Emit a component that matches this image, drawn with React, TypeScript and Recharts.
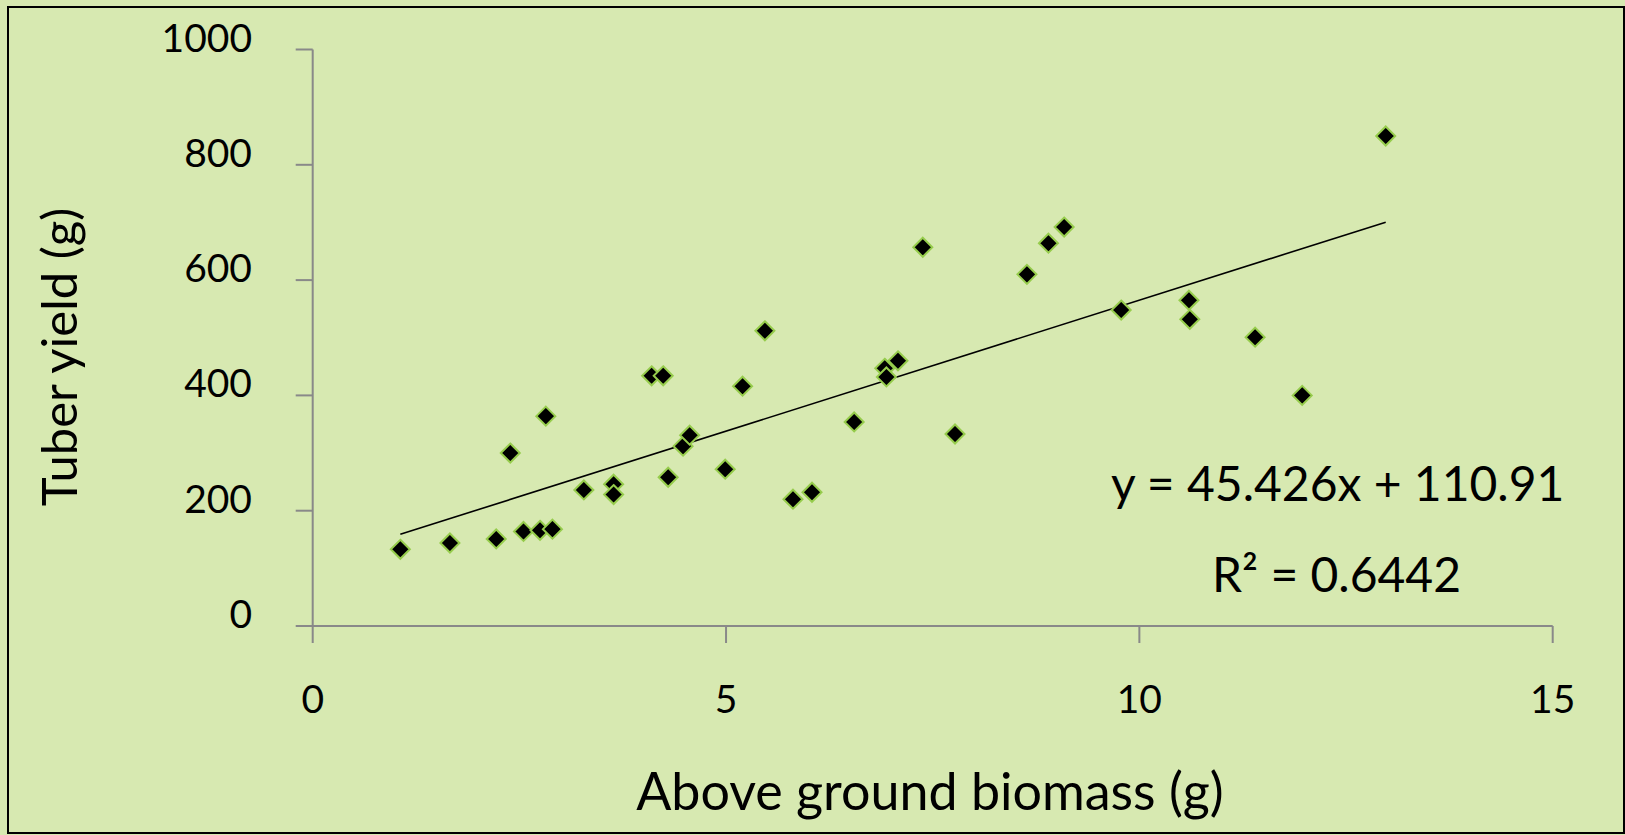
import { ScatterChart, Scatter, XAxis, YAxis, ReferenceLine } from 'recharts';

// above ground biomass (g) and tuber yield (g)
const biomass = [
  1.06, 1.66, 2.22, 2.39, 2.55, 2.75, 2.82, 2.9, 3.28, 3.64, 3.64, 4.1, 4.24, 4.3, 4.48, 4.56, 4.99, 5.2,
  5.47, 5.81, 6.04, 6.55, 6.92, 6.94, 7.08, 7.38, 7.77, 8.64, 8.9, 9.09, 9.78, 10.6, 10.61, 11.4, 11.97, 12.98,
];
const tuberYield = [
  133, 144, 151, 300, 164, 166, 364, 168, 236, 246, 228, 434, 434, 258, 312, 331, 272, 416,
  512, 220, 232, 354, 447, 432, 460, 657, 333, 610, 664, 692, 548, 565, 532, 501, 400, 850,
];

const xTicks = [0, 5, 10, 15];
const yTicks = [0, 200, 400, 600, 800, 1000];

// linear trendline as printed on the chart, drawn over the data range
const SLOPE = 45.426;
const INTERCEPT = 110.91;
const trendX = [1.06, 12.98];

const BG = '#d7e9b1';
const AXIS = '#898989';
const FONT = 'Lato, "Noto Sans", sans-serif';

const points = biomass.map((x, i) => ({ x, y: tuberYield[i] }));
const trendSegment = trendX.map((x) => ({ x, y: SLOPE * x + INTERCEPT }));

function Diamond(props: any) {
  const { cx, cy } = props;
  const r = 9.5;
  return (
    <polygon
      points={`${cx},${cy - r} ${cx + r},${cy} ${cx},${cy + r} ${cx - r},${cy}`}
      fill="#000"
      stroke="#96cc4c"
      strokeWidth={2}
    />
  );
}

function YTick(props: any) {
  const { x, y, payload } = props;
  return (
    <text x={x} y={y + 2} textAnchor="end" fontSize={39} fontFamily={FONT} fill="#000">
      {payload.value}
    </text>
  );
}

function XTick(props: any) {
  const { x, y, payload } = props;
  return (
    <text x={x} y={y + 70} textAnchor="middle" fontSize={39} fontFamily={FONT} fill="#000">
      {payload.value}
    </text>
  );
}

export default function App() {
  return (
    <div style={{ position: 'absolute', left: 0, top: 0, width: 1625, height: 835, background: BG }}>
      <div
        style={{
          position: 'absolute',
          left: 7,
          top: 6,
          width: 1618,
          height: 828,
          border: '2px solid #000',
          boxSizing: 'border-box',
        }}
      />
      <ScatterChart
        width={1625}
        height={835}
        margin={{ top: 49.5, right: 72.3, bottom: 109, left: 212.7 }}
        style={{ position: 'absolute', left: 0, top: 0 }}
      >
        <XAxis
          type="number"
          dataKey="x"
          domain={[0, 15]}
          ticks={xTicks}
          height={100}
          stroke={AXIS}
          strokeWidth={2}
          tickSize={17}
          tickMargin={0}
          tick={<XTick />}
          allowDataOverflow
        />
        <YAxis
          type="number"
          dataKey="y"
          domain={[0, 1000]}
          ticks={yTicks}
          width={100}
          stroke={AXIS}
          strokeWidth={2}
          tickSize={17}
          tickMargin={43.7}
          tick={<YTick />}
          allowDataOverflow
        />
        <ReferenceLine segment={trendSegment} stroke="#000" strokeWidth={1.6} />
        <Scatter data={points} shape={<Diamond />} isAnimationActive={false} />
      </ScatterChart>
      <svg
        width={1625}
        height={835}
        style={{ position: 'absolute', left: 0, top: 0, pointerEvents: 'none' }}
        fontFamily={FONT}
        fill="#000"
      >
        <text x={930} y={810} textAnchor="middle" fontSize={52}>
          Above ground biomass (g)
        </text>
        <text x={77} y={357} transform="rotate(-90, 77, 357)" textAnchor="middle" fontSize={49}>
          Tuber yield (g)
        </text>
        <text x={1111} y={501} fontSize={48}>
          y = 45.426x + 110.91
        </text>
        <text x={1212} y={592} fontSize={48}>
          R² = 0.6442
        </text>
      </svg>
    </div>
  );
}
